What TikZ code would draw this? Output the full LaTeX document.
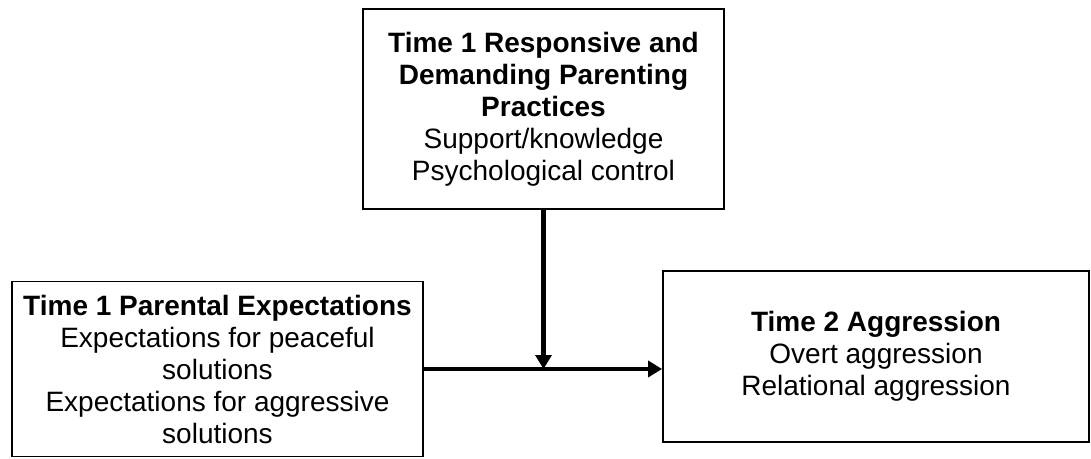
\documentclass[tikz,border=0pt]{standalone}
\usepackage{fontspec}
\setmainfont{Liberation Sans}
\usetikzlibrary{arrows.meta}
\begin{document}
\begin{tikzpicture}[x=1pt,y=1pt,
  boxnode/.style={draw=black, line width=1.8pt, inner sep=0pt, align=center,
    font=\fontsize{28}{32}\selectfont},
  thickarrow/.style={line width=4.6pt, -{Triangle[length=14pt,width=16pt]}}]
\useasboundingbox (0,0) rectangle (1091,458);
\fill[white] (0,0) rectangle (1091,458);
\node[boxnode, minimum width=361pt, minimum height=200pt] (tbox) at (543.5,349)
  {\textbf{Time 1 Responsive and}\\\textbf{Demanding Parenting}\\\textbf{Practices}\\Support/knowledge\\Psychological control};
\node[boxnode, minimum width=411pt, minimum height=175pt] (lbox) at (217.5,89)
  {\textbf{Time 1 Parental Expectations}\\Expectations for peaceful\\solutions\\Expectations for aggressive\\solutions};
\node[boxnode, minimum width=426pt, minimum height=171pt] (rbox) at (876,101.5)
  {\textbf{Time 2 Aggression}\\Overt aggression\\Relational aggression};
\draw[thickarrow] (lbox.east) -- (lbox.east -| rbox.west);
\draw[thickarrow] (tbox.south) -- (tbox.south |- lbox.east);
\end{tikzpicture}
\end{document}
